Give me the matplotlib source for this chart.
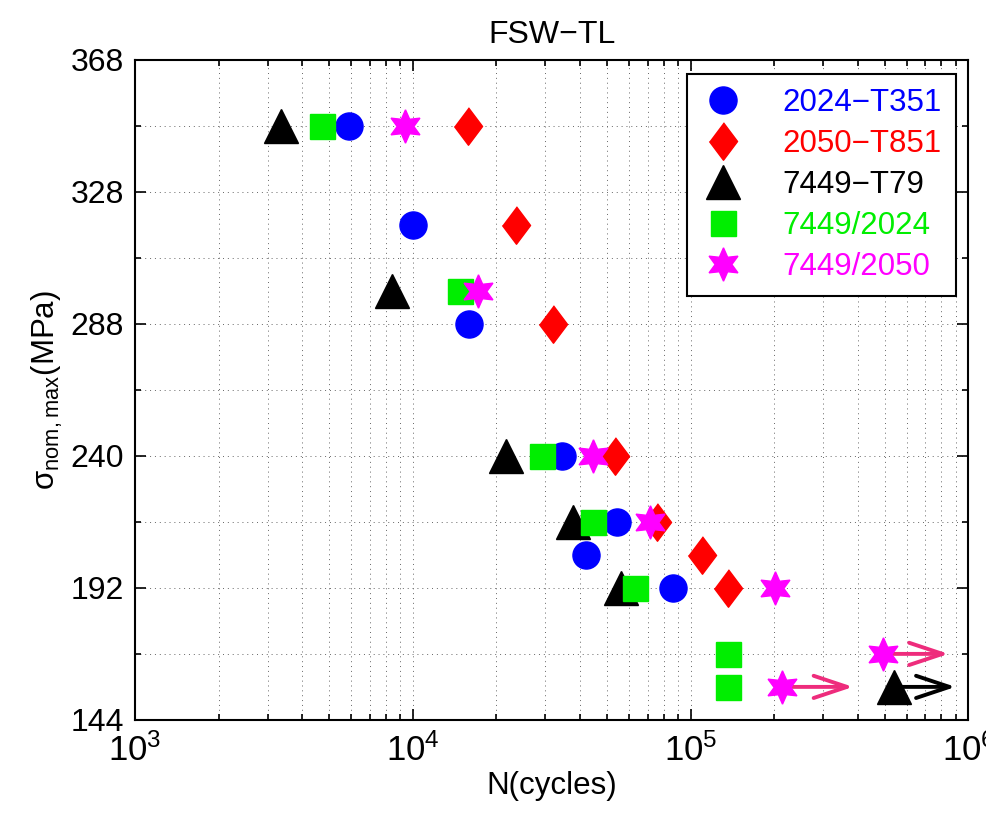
import numpy as np
import matplotlib.pyplot as plt
from matplotlib.ticker import FixedLocator, LogLocator, NullFormatter, FixedFormatter

plt.rcParams['font.family'] = ['Liberation Sans', 'DejaVu Sans']
plt.rcParams['mathtext.default'] = 'regular'

# stress axis: uneven values, evenly spaced ticks
y_ticks = [144, 192, 240, 288, 328, 368]
y_minor = [168, 216, 264, 308, 348]

labels = ['2024\u2212T351', '2050\u2212T851', '7449\u2212T79', '7449/2024', '7449/2050']
colors = ['#0000ff', '#ff0000', '#000000', '#00ee00', '#ff00ff']

# cycles to failure and max nominal stress (MPa)
n_2024 = [5.9e3, 1.0e4, 1.6e4, 3.45e4, 5.45e4, 4.2e4, 8.65e4]
s_2024 = [348, 318, 288, 240, 216, 204, 192]
n_2050 = [1.58e4, 2.35e4, 3.2e4, 5.35e4, 7.6e4, 1.1e5, 1.36e5]
s_2050 = [348, 318, 288, 240, 216, 204, 192]
n_7449 = [3.35e3, 8.4e3, 2.17e4, 3.78e4, 5.6e4, 5.4e5]
s_7449 = [348, 298, 240, 216, 192, 156]
n_7449_2024 = [4.7e3, 1.48e4, 2.92e4, 4.46e4, 6.3e4, 1.36e5, 1.36e5]
s_7449_2024 = [348, 298, 240, 216, 192, 168, 156]
n_7449_2050 = [9.4e3, 1.72e4, 4.46e4, 7.16e4, 2.02e5, 4.94e5, 2.14e5]
s_7449_2050 = [348, 298, 240, 216, 192, 168, 156]

# run-outs (start N, end N of arrow, stress, colour)
runout_start = [4.94e5, 2.14e5, 5.4e5]
runout_end = [8.5e5, 3.85e5, 9.0e5]
runout_s = [168, 156, 156]
runout_col = ['#ee2c7c', '#ee2c7c', '#000000']

idx = np.arange(len(y_ticks))
def fwd(v):
    return np.interp(v, y_ticks, idx)
def inv(i):
    return np.interp(i, idx, y_ticks)

fig = plt.figure(figsize=(9.86, 8.19), dpi=100)
ax = fig.add_axes([0.137, 0.121, 0.845, 0.806])
ax.set_xscale('log')
ax.set_yscale('function', functions=(fwd, inv))

diamond = [(0, 1), (0.75, 0), (0, -1), (-0.75, 0)]
hexstar = (6, 1, 0)
series = [
    (n_2024, s_2024, 'o', 19.5),
    (n_2050, s_2050, diamond, 27),
    (n_7449, s_7449, '^', 24),
    (n_7449_2024, s_7449_2024, 's', 18),
    (n_7449_2050, s_7449_2050, hexstar, 24),
]

for x0, x1, s, c in zip(runout_start, runout_end, runout_s, runout_col):
    ax.annotate('', xy=(x1, s), xytext=(x0, s),
                arrowprops=dict(arrowstyle='->,head_length=1.2,head_width=0.4',
                                mutation_scale=20, color=c, lw=2.8,
                                shrinkA=0, shrinkB=0), zorder=2)

for (n, s, m, ms), lab, c in zip(series, labels, colors):
    ax.plot(n, s, linestyle='none', marker=m, markersize=ms, color=c,
            markeredgecolor=c, label=lab, zorder=3)

ax.set_xlim(1e3, 1e6)
ax.set_ylim(144, 368)
ax.yaxis.set_major_locator(FixedLocator(y_ticks))
ax.yaxis.set_major_formatter(FixedFormatter([str(v) for v in y_ticks]))
ax.yaxis.set_minor_locator(FixedLocator(y_minor))
ax.yaxis.set_minor_formatter(NullFormatter())
ax.xaxis.set_major_locator(FixedLocator([1e3, 1e4, 1e5, 1e6]))
ax.xaxis.set_major_formatter(FixedFormatter(['$10^{3}$', '$10^{4}$', '$10^{5}$', '$10^{6}$']))
ax.xaxis.set_minor_locator(LogLocator(base=10, subs=np.arange(2, 10)))
ax.xaxis.set_minor_formatter(NullFormatter())

ax.grid(True, which='both', linestyle=(0, (1, 4)), color='0.4', linewidth=0.7)
ax.tick_params(which='both', direction='in', top=True, right=True, width=1.2)
ax.tick_params(which='major', length=8, labelsize=23, pad=8)
ax.tick_params(which='minor', length=4)
ax.tick_params(axis='x', which='major', labelsize=25, pad=10)
for sp in ax.spines.values():
    sp.set_linewidth(1.5)

ax.set_title('FSW\u2212TL', fontsize=23, pad=12)
ax.set_xlabel('N(cycles)', fontsize=22.5, labelpad=2)
ax.set_ylabel(r'$\sigma_{nom,max}$(MPa)', fontsize=22.5, labelpad=4)

leg = ax.legend(loc='upper right', bbox_to_anchor=(0.985, 0.978), borderaxespad=0,
                fontsize=22.5, fancybox=False, edgecolor='black', framealpha=1,
                borderpad=0.45, handlelength=1.4, handletextpad=1.2, labelspacing=0.35)
leg.get_frame().set_linewidth(1.5)
for t, c in zip(leg.get_texts(), colors):
    t.set_color(c)

fig.savefig('out.png', dpi=100)
